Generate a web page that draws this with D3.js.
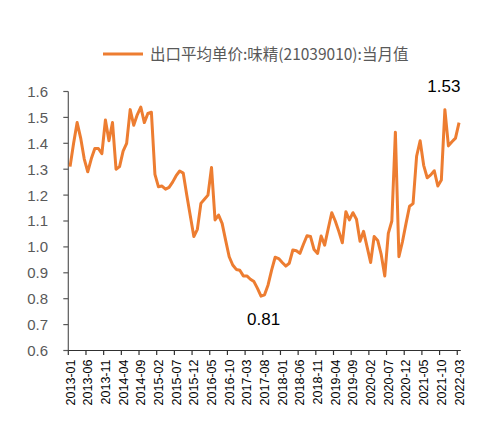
<!DOCTYPE html>
<html>
<head>
<meta charset="utf-8">
<script src="https://cdn.jsdelivr.net/npm/d3@7"></script>
<style>
  html, body { margin: 0; padding: 0; background: #fff; }
  svg { display: block; }
</style>
</head>
<body>
<svg id="chart" width="497" height="442"></svg>
<script>
// ---- data ----
const seriesName = "出口平均单价:味精(21039010):当月值";
const startYear = 2013, startMonth = 1, monthCount = 111;
const values = [
  1.31, 1.40, 1.48, 1.42, 1.34, 1.29, 1.34, 1.38, 1.38, 1.36,
  1.49, 1.41, 1.48, 1.30, 1.31, 1.37, 1.40, 1.53, 1.47, 1.51,
  1.54, 1.48, 1.515, 1.52, 1.28, 1.232, 1.235, 1.223, 1.23, 1.25,
  1.275, 1.293, 1.285, 1.20, 1.12, 1.04, 1.068, 1.168, 1.184, 1.20,
  1.307, 1.104, 1.123, 1.091, 1.025, 0.962, 0.93, 0.913, 0.91, 0.888,
  0.888, 0.875, 0.866, 0.84, 0.81, 0.815, 0.853, 0.91, 0.96, 0.955,
  0.94, 0.926, 0.937, 0.988, 0.985, 0.975, 1.01, 1.043, 1.04, 0.99,
  0.975, 1.042, 1.007, 1.07, 1.132, 1.10, 1.06, 1.016, 1.136, 1.104,
  1.132, 1.107, 1.022, 1.06, 1.0, 0.94, 1.04, 1.025, 0.97, 0.888,
  1.052, 1.10, 1.443, 0.962, 1.02, 1.09, 1.157, 1.167, 1.35, 1.41,
  1.315, 1.267, 1.278, 1.294, 1.235, 1.258, 1.53, 1.39, 1.406, 1.42,
  1.48
];
const yTicks = [0.6, 0.7, 0.8, 0.9, 1.0, 1.1, 1.2, 1.3, 1.4, 1.5, 1.6];
const labelEvery = 5;
const annotations = [
  { month: "2021-11", text: "1.53", pos: "above" },
  { month: "2017-08", text: "0.81", pos: "below" }
];

// ---- build month categories ----
const months = d3.range(monthCount).map(i => {
  const m0 = startMonth - 1 + i;
  const yr = startYear + Math.floor(m0 / 12);
  const m = (m0 % 12) + 1;
  return yr + "-" + String(m).padStart(2, "0");
});
const data = months.map((m, i) => ({ month: m, value: values[i] }));

// ---- layout ----
const svg = d3.select("#chart");
const plotL = 68.3, plotR = 460.8, plotT = 91.5, plotB = 350.5;
const orange = "#ED7D31";

const x = d3.scaleBand().domain(months).range([plotL, plotR]).padding(0);
const y = d3.scaleLinear().domain([0.6, 1.6]).range([plotB, plotT]);
const cx = m => x(m) + x.bandwidth() / 2;

// legend
svg.append("line")
  .attr("x1", 103).attr("x2", 143).attr("y1", 54).attr("y2", 54)
  .attr("stroke", orange).attr("stroke-width", 3);
svg.append("text")
  .attr("x", 150).attr("y", 59.5)
  .attr("font-family", "'Noto Sans CJK SC', sans-serif")
  .attr("font-size", 15.5)
  .attr("fill", "#595959")
  .text(seriesName);

// y axis
const yAxis = svg.append("g");
yAxis.append("line")
  .attr("x1", plotL).attr("x2", plotL).attr("y1", plotT).attr("y2", plotB)
  .attr("stroke", "#595959").attr("stroke-width", 1.2);
yAxis.selectAll("line.tick").data(yTicks).join("line")
  .attr("class", "tick")
  .attr("x1", plotL - 5).attr("x2", plotL)
  .attr("y1", d => y(d)).attr("y2", d => y(d))
  .attr("stroke", "#595959").attr("stroke-width", 1.2);
yAxis.selectAll("text").data(yTicks).join("text")
  .attr("x", 48).attr("y", d => y(d))
  .attr("dy", "0.36em")
  .attr("text-anchor", "end")
  .attr("font-family", "'Liberation Sans', Arial, sans-serif")
  .attr("font-size", 15)
  .attr("fill", "#595959")
  .text(d => d3.format(".1f")(d));

// x axis
const labeled = months.filter((m, i) => i % labelEvery === 0);
const xAxis = svg.append("g");
xAxis.append("line")
  .attr("x1", plotL).attr("x2", plotR).attr("y1", plotB).attr("y2", plotB)
  .attr("stroke", "#303030").attr("stroke-width", 1.2);
xAxis.selectAll("line.tick").data(labeled).join("line")
  .attr("class", "tick")
  .attr("x1", d => x(d)).attr("x2", d => x(d))
  .attr("y1", plotB).attr("y2", plotB + 4.5)
  .attr("stroke", "#303030").attr("stroke-width", 1.2);
xAxis.selectAll("text").data(labeled).join("text")
  .attr("transform", d => `translate(${cx(d)},${plotB + 9}) rotate(-90)`)
  .attr("dy", "0.36em")
  .attr("text-anchor", "end")
  .attr("font-family", "'Liberation Sans', Arial, sans-serif")
  .attr("font-size", 12.5)
  .attr("fill", "#000")
  .text(d => d);

// line
const line = d3.line().x(d => cx(d.month)).y(d => y(d.value));
svg.append("path")
  .datum(data)
  .attr("d", line)
  .attr("fill", "none")
  .attr("stroke", orange)
  .attr("stroke-width", 3)
  .attr("stroke-linejoin", "round");

// annotations
annotations.forEach(a => {
  const d = data.find(p => p.month === a.month);
  svg.append("text")
    .attr("x", cx(a.month) - 1)
    .attr("y", a.pos === "above" ? y(d.value) - 18 : y(d.value) + 30)
    .attr("text-anchor", "middle")
    .attr("font-family", "'Liberation Sans', Arial, sans-serif")
    .attr("font-size", 17)
    .attr("fill", "#000")
    .text(a.text);
});
</script>
</body>
</html>
